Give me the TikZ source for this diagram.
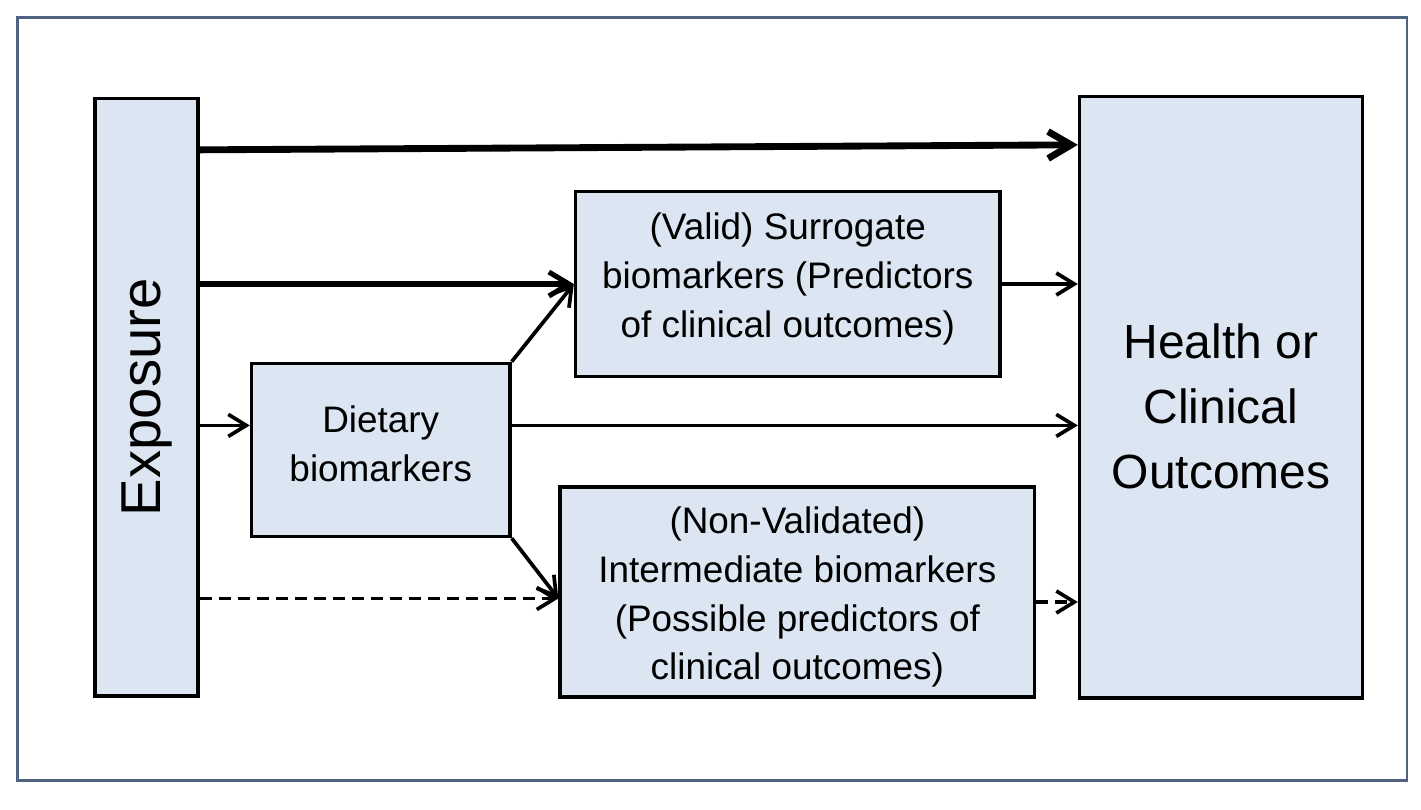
\documentclass[tikz,border=0pt]{standalone}
\usepackage{fontspec}
\setmainfont{Liberation Sans}
\usetikzlibrary{arrows.meta}
\definecolor{boxfill}{HTML}{DCE6F2}
\definecolor{framecol}{RGB}{79,98,128}

\begin{document}
\begin{tikzpicture}[
  marker/.style={rectangle, draw, fill=boxfill, line width=1.9pt, align=center, inner sep=0pt, font=\fontsize{21}{27.8}\selectfont},
  flow/.style={line width=2.1pt, -{Straight Barb[length=3.6mm, width=4.4mm]}},
  flowmid/.style={line width=2.9pt, -{Straight Barb[length=4mm, width=4.8mm]}},
  flowbold/.style={line width=3.9pt, -{Straight Barb[length=4.6mm, width=5.4mm]}},
  flowdash/.style={flow, dash pattern=on 2.4mm off 1.4mm}
]
\useasboundingbox (0,0) rectangle (28.42,-16.18);

% Outer frame
\draw[framecol, line width=1.5pt] (0.346,-0.346) rectangle (28.14,-15.614);

% Boxes
\node[marker, minimum width=2.06cm, minimum height=11.95cm] (expo) at (2.93,-7.945)
  {\rotatebox{90}{\fontsize{32}{38}\selectfont Exposure}};
\node[marker, minimum width=5.66cm, minimum height=12.03cm, font=\fontsize{27.3}{36.8}\selectfont] (hlth) at (24.42,-7.945)
  {\rule{0pt}{30pt}Health or\\Clinical\\Outcomes};
\node[marker, minimum width=8.49cm, minimum height=3.7cm] (surr) at (15.755,-5.68)
  {(Valid) Surrogate\\biomarkers (Predictors\\of clinical outcomes)\rule[-0.36cm]{0pt}{0pt}};
\node[marker, minimum width=5.17cm, minimum height=3.464cm] (diet) at (7.615,-8.998)
  {Dietary\\biomarkers\rule[-0.24cm]{0pt}{0pt}};
\node[marker, minimum width=9.494cm, minimum height=4.2cm] (intm) at (15.947,-11.84)
  {\rule{0pt}{21pt}(Non-Validated)\\Intermediate biomarkers\\(Possible predictors of\\clinical outcomes)};

% Entry points
\coordinate (dietin) at ([yshift=0.49cm]diet.west);
\coordinate (dietout) at ([yshift=0.49cm]diet.east);
\coordinate (intmin) at ([yshift=-0.13cm]intm.west);
\coordinate (intmout) at ([yshift=-0.2cm]intm.east);

% Connections
\draw[flowbold] ([yshift=-1.06cm]expo.north east) -- ([yshift=-1.0cm]hlth.north west);
\draw[flowmid] (expo.east |- surr.west) -- (surr.west);
\draw[flow] (expo.east |- dietin) -- (dietin);
\draw[flowdash] (expo.east |- intmin) -- (intmin);
\draw[flow] (diet.north east) -- (surr.west);
\draw[flow] (diet.south east) -- (intmin);
\draw[flow] (dietout) -- (hlth.west |- dietout);
\draw[flow] (surr.east) -- (hlth.west |- surr.east);
\draw[flowdash] (intmout) -- (hlth.west |- intmout);

\end{tikzpicture}
\end{document}
